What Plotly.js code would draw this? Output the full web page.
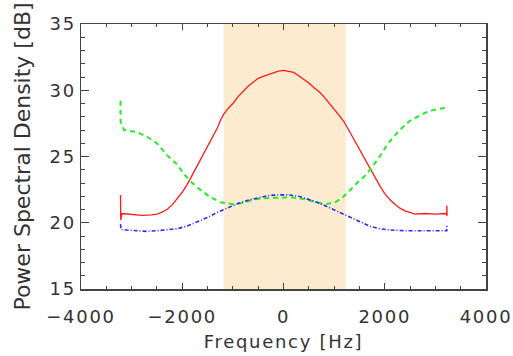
<!DOCTYPE html>
<html>
<head>
<meta charset="utf-8">
<script src="https://cdn.plot.ly/plotly-3.0.1.min.js"></script>
<style>
html,body{margin:0;padding:0;background:#fff;}
#chart{width:513px;height:356px;}
.xtick text,.ytick text,.g-xtitle text{letter-spacing:1.7px;}
</style>
</head>
<body>
<div id="chart"></div>
<script>
// Red (solid) series
var redX = [-3220,-3215,-3190,-3000,-2800,-2600,-2500,-2400,-2300,-2200,-2100,-2000,-1900,-1800,-1700,-1600,-1500,-1400,-1300,-1250,-1180,-1100,-1000,-900,-800,-700,-600,-500,-400,-300,-200,-100,0,100,200,300,400,500,600,700,800,900,1000,1100,1200,1300,1400,1500,1600,1700,1800,1900,2000,2100,2200,2300,2400,2500,2600,2800,3000,3200,3225,3228,3230];
var redY = [22.1,20.2,20.7,20.6,20.55,20.6,20.65,20.8,21.0,21.35,21.8,22.3,22.9,23.6,24.3,25.1,25.8,26.5,27.2,27.7,28.2,28.6,29.0,29.5,29.9,30.3,30.6,30.9,31.05,31.2,31.35,31.45,31.5,31.4,31.35,31.1,30.85,30.55,30.2,29.9,29.5,29.05,28.6,28.1,27.6,26.9,26.3,25.6,24.9,24.1,23.45,22.8,22.2,21.75,21.4,21.1,20.9,20.8,20.65,20.7,20.65,20.7,20.6,21.3,20.5];

// Green (dashed) series
var greenX = [-3220,-3218,-3150,-2900,-2700,-2500,-2300,-2100,-1950,-1800,-1650,-1450,-1250,-1000,-800,-600,-400,-200,0,200,400,600,800,1000,1150,1300,1450,1600,1750,1900,2050,2200,2350,2500,2650,2800,2950,3100,3225];
var greenY = [29.2,27.6,27.0,26.85,26.5,26.0,25.1,24.4,23.6,23.0,22.5,21.95,21.55,21.4,21.5,21.75,21.85,21.9,21.9,21.9,21.8,21.6,21.4,21.5,21.85,22.4,23.0,23.5,24.2,25.0,25.9,26.6,27.2,27.7,28.0,28.3,28.5,28.6,28.7];

// Blue (dash-dot) series
var blueX = [-3220,-3210,-3100,-2900,-2700,-2500,-2300,-2100,-1900,-1700,-1500,-1300,-1100,-900,-700,-500,-300,-100,100,300,500,700,900,1100,1300,1500,1700,1900,2100,2400,2700,3000,3225,3228];
var blueY = [19.9,19.5,19.45,19.4,19.35,19.4,19.45,19.55,19.75,20.05,20.4,20.8,21.15,21.45,21.7,21.9,22.05,22.1,22.1,22.0,21.75,21.5,21.15,20.8,20.4,20.05,19.75,19.55,19.45,19.4,19.4,19.4,19.4,19.9];

// Shaded band limits (Hz)
var bandStart = -1180;
var bandEnd = 1230;

// Axis ticks
var xTickVals = [-4000,-2000,0,2000,4000];
var yTickVals = [15,20,25,30,35];

var traces = [
  {x: redX, y: redY, type: 'scatter', mode: 'lines', line: {color: '#ff1a1a', width: 1.3}, hoverinfo: 'skip'},
  {x: greenX, y: greenY, type: 'scatter', mode: 'lines', line: {color: '#22ee22', width: 2, dash: '5px,4px'}, hoverinfo: 'skip'},
  {x: blueX, y: blueY, type: 'scatter', mode: 'lines', line: {color: '#2a2aff', width: 1.6, dash: '4px,2px,1px,2px'}, hoverinfo: 'skip'}
];

var axisCommon = {
  showgrid: false, zeroline: false, showline: true, linecolor: '#444', linewidth: 1.5,
  ticks: 'inside', mirror: 'ticks', tickcolor: '#444', tickwidth: 1.2
};

var layout = {
  width: 513, height: 356,
  margin: {l: 81, r: 27, t: 24, b: 67},
  paper_bgcolor: '#fff', plot_bgcolor: '#fff',
  showlegend: false,
  font: {family: 'DejaVu Sans', size: 18, color: '#333'},
  xaxis: Object.assign({}, axisCommon, {
    range: [-4000, 4000], tickvals: xTickVals, ticklen: 6, ticklabelstandoff: 11,
    minor: {dtick: 500, tick0: 0, ticks: 'inside', ticklen: 3, tickcolor: '#444', tickwidth: 1},
    title: {text: 'Frequency [Hz]', standoff: 9, font: {family: 'DejaVu Sans', size: 18, color: '#333'}}
  }),
  yaxis: Object.assign({}, axisCommon, {
    range: [15, 35], tickvals: yTickVals, ticklen: 8,
    minor: {dtick: 1, tick0: 0, ticks: 'inside', ticklen: 4, tickcolor: '#444', tickwidth: 1},
    title: {text: 'Power Spectral Density [dB]', standoff: 13}
  }),
  shapes: [{
    type: 'rect', xref: 'x', yref: 'paper', x0: bandStart, x1: bandEnd, y0: 0, y1: 1,
    fillcolor: '#fdebcf', line: {width: 0}, layer: 'below'
  }]
};

Plotly.newPlot('chart', traces, layout, {staticPlot: true, displayModeBar: false});
</script>
</body>
</html>
